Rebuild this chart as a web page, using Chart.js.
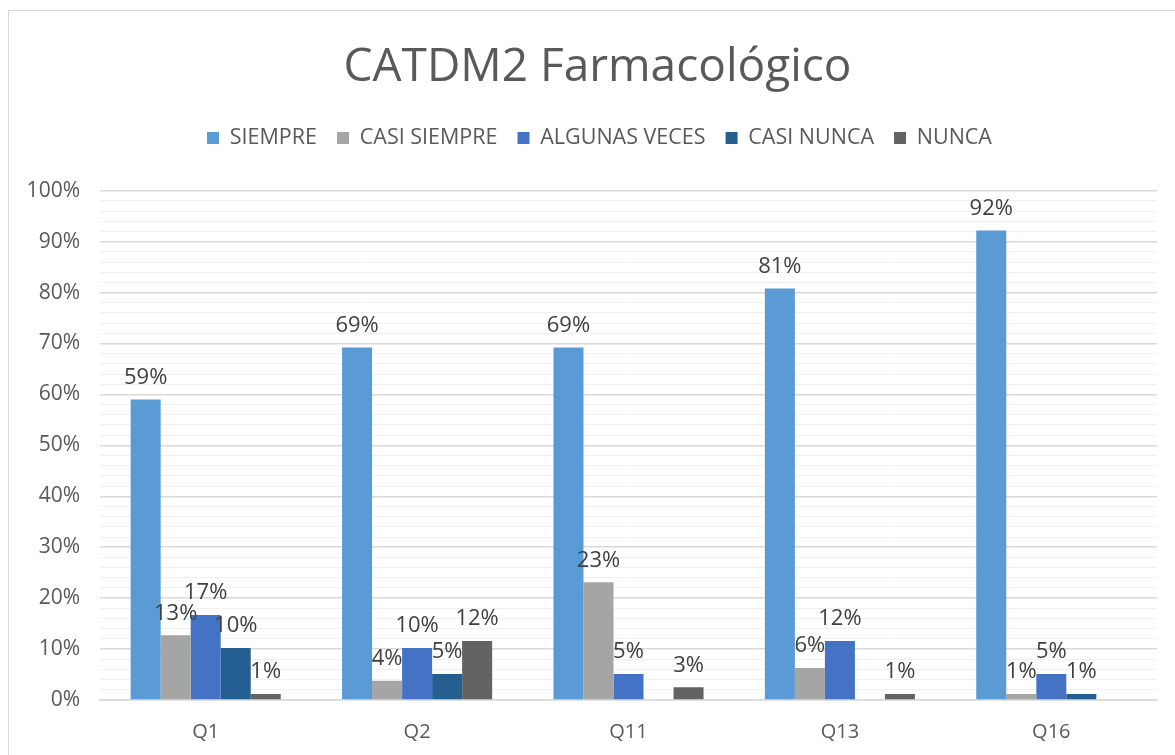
<!DOCTYPE html>
<html>
<head>
<meta charset="utf-8">
<script src="https://cdn.jsdelivr.net/npm/chart.js@4/dist/chart.umd.min.js"></script>
<style>
    html, body { margin: 0; padding: 0; background: #fff; overflow: hidden; }
    .frame {
        position: absolute; left: 8px; top: 10px; width: 1190px; height: 770px;
        border: 1px solid #d9d9d9; box-sizing: border-box;
    }
    .wrap { position: absolute; left: 0; top: 0; width: 1175px; height: 758px; }
</style>
</head>
<body>
<div class="frame"></div>
<div class="wrap"><canvas id="farmChart" width="1175" height="758"></canvas></div>
<script>
// Chart data
const categories = ['Q1', 'Q2', 'Q11', 'Q13', 'Q16'];
const siempre = [59, 69.2, 69.2, 80.8, 92.2];
const casiSiempre = [12.7, 3.8, 23.1, 6.3, 1.2];
const algunasVeces = [16.7, 10.2, 5.1, 11.6, 5.1];
const casiNunca = [10.2, 5.1, 0, 0, 1.2];
const nunca = [1.2, 11.6, 2.5, 1.2, 0];
const yTicks = [0, 10, 20, 30, 40, 50, 60, 70, 80, 90, 100];

const fontFamily = "'Open Sans', 'Liberation Sans', sans-serif";

// Value labels drawn above each bar
const barLabels = {
    id: 'barLabels',
    afterDatasetsDraw(chart) {
        const ctx = chart.ctx;
        ctx.save();
        ctx.font = '22px ' + fontFamily;
        ctx.fillStyle = '#404040';
        ctx.textAlign = 'center';
        ctx.textBaseline = 'bottom';
        chart.data.datasets.forEach((ds, i) => {
            const meta = chart.getDatasetMeta(i);
            meta.data.forEach((bar, j) => {
                const v = ds.data[j];
                if (!v) return;
                ctx.fillText(Math.round(v) + '%', bar.x, bar.y - 11);
            });
        });
        ctx.restore();
    }
};

// Extra room under the legend
const legendGap = {
    id: 'legendGap',
    beforeInit(chart) {
        const origFit = chart.legend.fit;
        chart.legend.fit = function() {
            origFit.bind(chart.legend)();
            this.height += 32;
        };
    },
    // title and legend sit a bit right of the canvas centre
    afterLayout(chart) {
        if (chart.titleBlock) {
            chart.titleBlock.left += 10;
            chart.titleBlock.right += 10;
        }
        chart.legend.left += 12;
        chart.legend.right += 12;
    }
};

const ctx = document.getElementById('farmChart').getContext('2d');
const farmChart = new Chart(ctx, {
    type: 'bar',
    data: {
        labels: categories,
        datasets: [
            { label: 'SIEMPRE', data: siempre, backgroundColor: '#5B9BD5' },
            { label: 'CASI SIEMPRE', data: casiSiempre, backgroundColor: '#A5A5A5' },
            { label: 'ALGUNAS VECES', data: algunasVeces, backgroundColor: '#4472C4' },
            { label: 'CASI NUNCA', data: casiNunca, backgroundColor: '#255E91' },
            { label: 'NUNCA', data: nunca, backgroundColor: '#636363' }
        ]
    },
    options: {
        responsive: false,
        animation: false,
        categoryPercentage: 0.71,
        barPercentage: 1,
        layout: { padding: { left: 18, right: 18, top: 20, bottom: 2 } },
        plugins: {
            title: {
                display: true,
                text: 'CATDM2 Farmacológico',
                color: '#595959',
                font: { size: 46, family: fontFamily, weight: 'normal' },
                padding: { top: 20, bottom: 12 }
            },
            legend: {
                position: 'top',
                labels: {
                    color: '#595959',
                    font: { size: 21.5, family: fontFamily },
                    boxWidth: 12,
                    boxHeight: 12,
                    padding: 20
                }
            },
            tooltip: { enabled: false }
        },
        scales: {
            y: {
                min: 0,
                max: 100,
                border: { display: false },
                afterFit: scale => { scale.width = 82; },
                ticks: {
                    stepSize: 2,
                    autoSkip: false,
                    color: '#595959',
                    padding: 20,
                    font: { size: 21, family: fontFamily },
                    callback: v => yTicks.includes(v) ? v + '%' : ''
                },
                grid: {
                    drawTicks: false,
                    color: c => (c.tick.value % 10 === 0) ? '#d9d9d9' : '#f0f0f0',
                    lineWidth: c => (c.tick.value % 10 === 0) ? 1.5 : 1
                }
            },
            x: {
                border: { display: true, color: '#d9d9d9', width: 1.5 },
                grid: { display: false },
                ticks: {
                    color: '#595959',
                    padding: 12,
                    font: { size: 20, family: fontFamily }
                }
            }
        }
    },
    plugins: [barLabels, legendGap]
});
</script>
</body>
</html>
